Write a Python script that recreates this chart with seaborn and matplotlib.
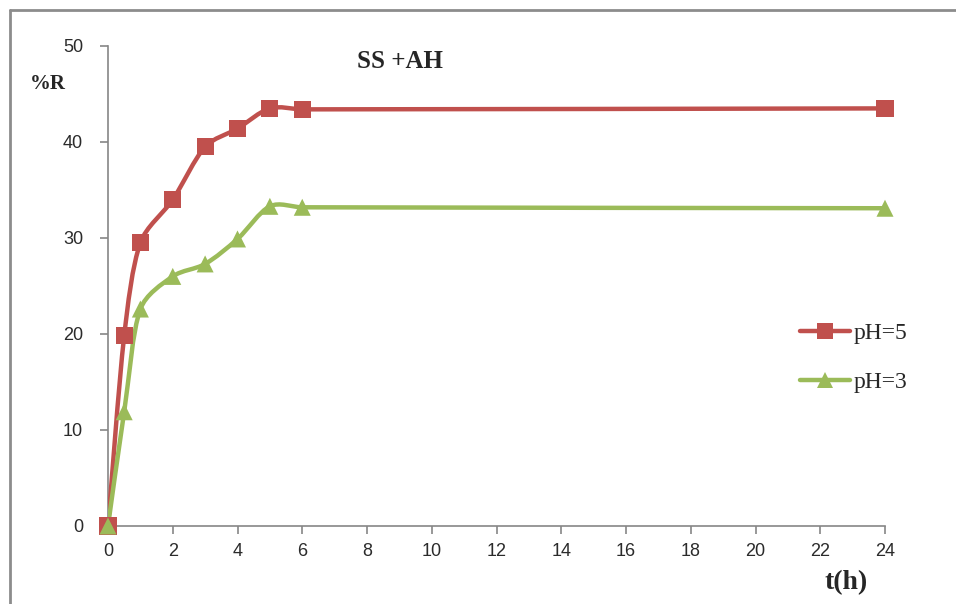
import numpy as np
import pandas as pd
import matplotlib
matplotlib.use("Agg")
import matplotlib.pyplot as plt
from matplotlib.path import Path
from matplotlib.patches import PathPatch
from matplotlib.lines import Line2D
import seaborn as sns

# Retention (%R) over time for two pH values
t_hours = [0, 0.5, 1, 2, 3, 4, 5, 6, 24]
r_ph5 = [0, 19.8, 29.5, 34.0, 39.5, 41.4, 43.5, 43.4, 43.5]
r_ph3 = [0, 11.9, 22.6, 26.0, 27.3, 29.9, 33.3, 33.2, 33.1]
series_labels = ["pH=5", "pH=3"]
x_ticks = list(range(0, 25, 2))
y_ticks = [0, 10, 20, 30, 40, 50]

RED = "#C0504D"
GREEN = "#9BBB59"
AXIS_GREY = "#868686"

sns.set_theme(style="white")
plt.rcParams["font.family"] = ["Liberation Sans", "DejaVu Sans"]

df = pd.DataFrame({
    "t": t_hours * 2,
    "R": r_ph5 + r_ph3,
    "series": [series_labels[0]] * len(t_hours) + [series_labels[1]] * len(t_hours),
})

fig = plt.figure(figsize=(9.56, 6.04), dpi=100)
ax = fig.add_axes([108 / 956, 1 - 526 / 604, 777 / 956, 480 / 604])
ax.set_xlim(0, 24)
ax.set_ylim(0, 50)

# scale of data units on screen, so tangents are limited in a visual sense
SX, SY = 777 / 24, 480 / 50


def smooth_path(xs, ys):
    """Cubic Bezier path through the points with clamped Catmull-Rom tangents."""
    pts = np.column_stack([np.asarray(xs, float) * SX, np.asarray(ys, float) * SY])
    n = len(pts)
    verts = [pts[0]]
    codes = [Path.MOVETO]
    for i in range(n - 1):
        p0 = pts[i - 1] if i > 0 else pts[i]
        p1 = pts[i]
        p2 = pts[i + 1]
        p3 = pts[i + 2] if i + 2 < n else pts[i + 1]
        seg = np.linalg.norm(p2 - p1)
        d1 = (p2 - p0) / 6.0
        d2 = (p3 - p1) / 6.0
        lim = seg / 3.0
        n1, n2 = np.linalg.norm(d1), np.linalg.norm(d2)
        if n1 > lim:
            d1 *= lim / n1
        if n2 > lim:
            d2 *= lim / n2
        verts += [p1 + d1, p2 - d2, p2]
        codes += [Path.CURVE4] * 3
    verts = np.array(verts) / np.array([SX, SY])
    return Path(verts, codes)


for label, vals, color in [(series_labels[0], r_ph5, RED), (series_labels[1], r_ph3, GREEN)]:
    patch = PathPatch(smooth_path(t_hours, vals), facecolor="none", edgecolor=color,
                      lw=3.2, capstyle="round", joinstyle="round", zorder=3)
    ax.add_patch(patch)

sns.scatterplot(data=df, x="t", y="R", hue="series", style="series",
                palette={series_labels[0]: RED, series_labels[1]: GREEN},
                markers={series_labels[0]: "s", series_labels[1]: "^"},
                s=150, edgecolor="none", linewidth=0, legend=False,
                ax=ax, zorder=4, clip_on=False)

ax.set_xlim(0, 24)
ax.set_ylim(0, 50)
ax.set_xticks(x_ticks)
ax.set_yticks(y_ticks)
ax.set_xlabel("")
ax.set_ylabel("")

for side in ["top", "right"]:
    ax.spines[side].set_visible(False)
for side in ["left", "bottom"]:
    ax.spines[side].set_color(AXIS_GREY)
    ax.spines[side].set_linewidth(1.2)

ax.tick_params(axis="both", which="major", direction="out", length=6, width=1.2,
               color=AXIS_GREY, labelsize=13, labelcolor="#2b2b2b", pad=6,
               left=True, bottom=True)
ax.tick_params(axis="y", pad=12)

serif = ["Liberation Serif", "DejaVu Serif"]
fig.text(400 / 956, 1 - 62 / 604, "SS +AH", ha="center", va="center",
         fontsize=18, fontweight="bold", family=serif)
fig.text(48 / 956, 1 - 84 / 604, "%R", ha="center", va="center",
         fontsize=15, fontweight="bold", family=serif)
fig.text(846 / 956, 1 - 583 / 604, "t(h)", ha="center", va="center",
         fontsize=20, fontweight="bold", family=serif)

handles = [
    Line2D([], [], color=RED, lw=3.2, marker="s", markersize=11, markeredgewidth=0),
    Line2D([], [], color=GREEN, lw=3.2, marker="^", markersize=11, markeredgewidth=0),
]
leg = fig.legend(handles, series_labels, loc="center left",
                 bbox_to_anchor=(800 / 956, 1 - 358 / 604), frameon=False,
                 prop={"family": serif, "size": 17}, handlelength=2.1,
                 handletextpad=0.15, labelspacing=1.15, borderpad=0,
                 borderaxespad=0)

# Chart-area frame
fig.add_artist(Line2D([10 / 956, 1], [1 - 10 / 604, 1 - 10 / 604],
                      transform=fig.transFigure, color="#8c8c8c", lw=2))
fig.add_artist(Line2D([10 / 956, 10 / 956], [0, 1 - 10 / 604],
                      transform=fig.transFigure, color="#8c8c8c", lw=2))

fig.savefig("out.png", dpi=100, facecolor="white")
